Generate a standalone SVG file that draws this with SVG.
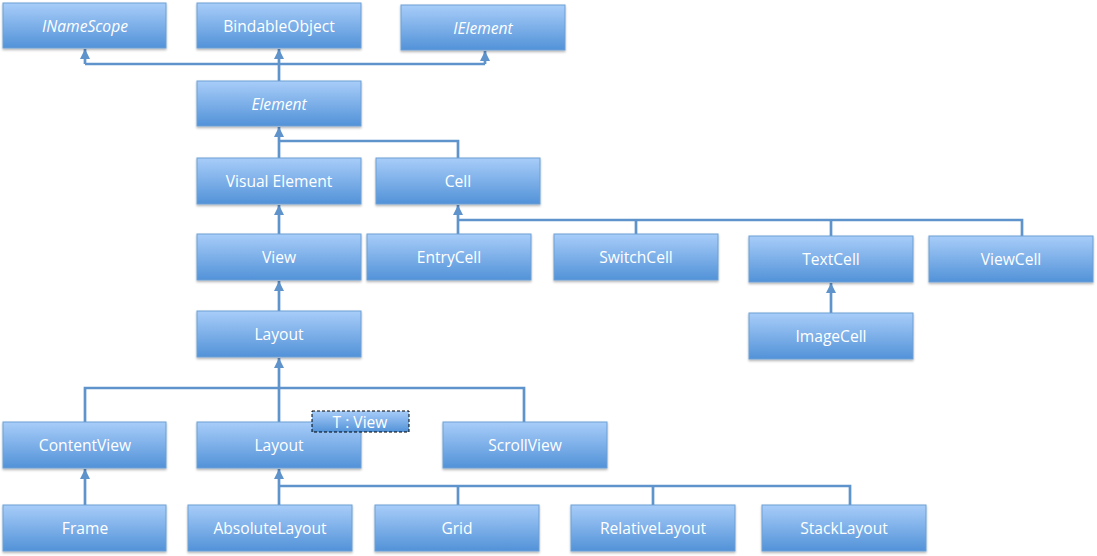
<svg xmlns="http://www.w3.org/2000/svg" width="1097" height="556" viewBox="0 0 1097 556">
<defs>
<linearGradient id="g" x1="0" y1="0" x2="0" y2="1">
<stop offset="0" stop-color="#a8cdf9"/>
<stop offset="1" stop-color="#5292d8"/>
</linearGradient>
<filter id="sh" x="-5%" y="-10%" width="110%" height="130%">
<feDropShadow dx="0" dy="1.5" stdDeviation="1" flood-color="#000" flood-opacity="0.3"/>
</filter>
<marker id="ah" viewBox="0 0 10 10" refX="10" refY="5" markerWidth="10" markerHeight="10" markerUnits="userSpaceOnUse" orient="auto">
<path d="M0,0 L10,5 L0,10 Z" fill="#5f93cc"/>
</marker>
</defs>
<style>
.b{fill:url(#g);stroke:#6d9fd4;stroke-width:1;filter:url(#sh)}
.t{font-family:"Open Sans","Liberation Sans",sans-serif;font-size:15.6px;fill:#fff;text-anchor:middle;dominant-baseline:central}
.i{font-style:italic}
.c{fill:none;stroke:#5f93cc;stroke-width:2.7}
.a{marker-end:url(#ah)}
.d{fill:url(#g);stroke:#000;stroke-width:1;stroke-dasharray:3,2}
</style>
<rect width="1097" height="556" fill="#fff"/>
<g id="connectors">
<path class="c" d="M279,81 V64"/>
<path class="c" d="M85,64 H485"/>
<path class="c a" d="M85,64 V49"/>
<path class="c a" d="M279,64 V49"/>
<path class="c a" d="M485,64 V51"/>
<path class="c a" d="M279,158 V127"/>
<path class="c" d="M279,141 H458 V158"/>
<path class="c a" d="M279,234 V205"/>
<path class="c a" d="M458,234 V205"/>
<path class="c" d="M458,220 H1022 V236"/>
<path class="c" d="M636,220 V234"/>
<path class="c" d="M831,220 V236"/>
<path class="c a" d="M831,313 V283"/>
<path class="c a" d="M279,311 V281"/>
<path class="c a" d="M279,422 V358"/>
<path class="c" d="M85,422 V388 H524 V422"/>
<path class="c a" d="M85,505 V469"/>
<path class="c a" d="M279,505 V469"/>
<path class="c" d="M279,486 H850 V505"/>
<path class="c" d="M458,486 V505"/>
<path class="c" d="M653,486 V505"/>
</g>
<g id="n-inamescope"><rect class="b" x="3" y="3" width="163" height="45"/><text class="t i" x="85" y="26">INameScope</text></g>
<g id="n-bindableobject"><rect class="b" x="197" y="3" width="164" height="45"/><text class="t" x="279" y="26">BindableObject</text></g>
<g id="n-ielement"><rect class="b" x="401" y="5" width="164" height="45"/><text class="t i" x="483" y="28">IElement</text></g>
<g id="n-element"><rect class="b" x="197" y="81" width="164" height="45"/><text class="t i" x="279" y="104">Element</text></g>
<g id="n-visualelement"><rect class="b" x="197" y="158" width="164" height="46"/><text class="t" x="279" y="181">Visual Element</text></g>
<g id="n-cell"><rect class="b" x="376" y="158" width="164" height="46"/><text class="t" x="458" y="181">Cell</text></g>
<g id="n-view"><rect class="b" x="197" y="234" width="164" height="46"/><text class="t" x="279" y="257">View</text></g>
<g id="n-entrycell"><rect class="b" x="367" y="234" width="164" height="46"/><text class="t" x="449" y="257">EntryCell</text></g>
<g id="n-switchcell"><rect class="b" x="554" y="234" width="164" height="46"/><text class="t" x="636" y="257">SwitchCell</text></g>
<g id="n-textcell"><rect class="b" x="749" y="236" width="164" height="46"/><text class="t" x="831" y="259">TextCell</text></g>
<g id="n-viewcell"><rect class="b" x="929" y="236" width="164" height="46"/><text class="t" x="1011" y="259">ViewCell</text></g>
<g id="n-imagecell"><rect class="b" x="749" y="313" width="164" height="46"/><text class="t" x="831" y="336">ImageCell</text></g>
<g id="n-layout1"><rect class="b" x="197" y="311" width="164" height="46"/><text class="t" x="279" y="334">Layout</text></g>
<g id="n-contentview"><rect class="b" x="3" y="422" width="163" height="46"/><text class="t" x="85" y="445">ContentView</text></g>
<g id="n-layout2"><rect class="b" x="197" y="422" width="164" height="46"/><text class="t" x="279" y="445">Layout</text></g>
<g id="n-tview"><rect class="d" x="312" y="411" width="97" height="21"/><text class="t" x="360" y="422">T : View</text></g>
<g id="n-scrollview"><rect class="b" x="443" y="422" width="164" height="46"/><text class="t" x="525" y="445">ScrollView</text></g>
<g id="n-frame"><rect class="b" x="3" y="505" width="163" height="46"/><text class="t" x="85" y="528">Frame</text></g>
<g id="n-absolutelayout"><rect class="b" x="188" y="505" width="164" height="46"/><text class="t" x="270" y="528">AbsoluteLayout</text></g>
<g id="n-grid"><rect class="b" x="375" y="505" width="164" height="46"/><text class="t" x="457" y="528">Grid</text></g>
<g id="n-relativelayout"><rect class="b" x="571" y="505" width="164" height="46"/><text class="t" x="653" y="528">RelativeLayout</text></g>
<g id="n-stacklayout"><rect class="b" x="762" y="505" width="164" height="46"/><text class="t" x="844" y="528">StackLayout</text></g>
</svg>
